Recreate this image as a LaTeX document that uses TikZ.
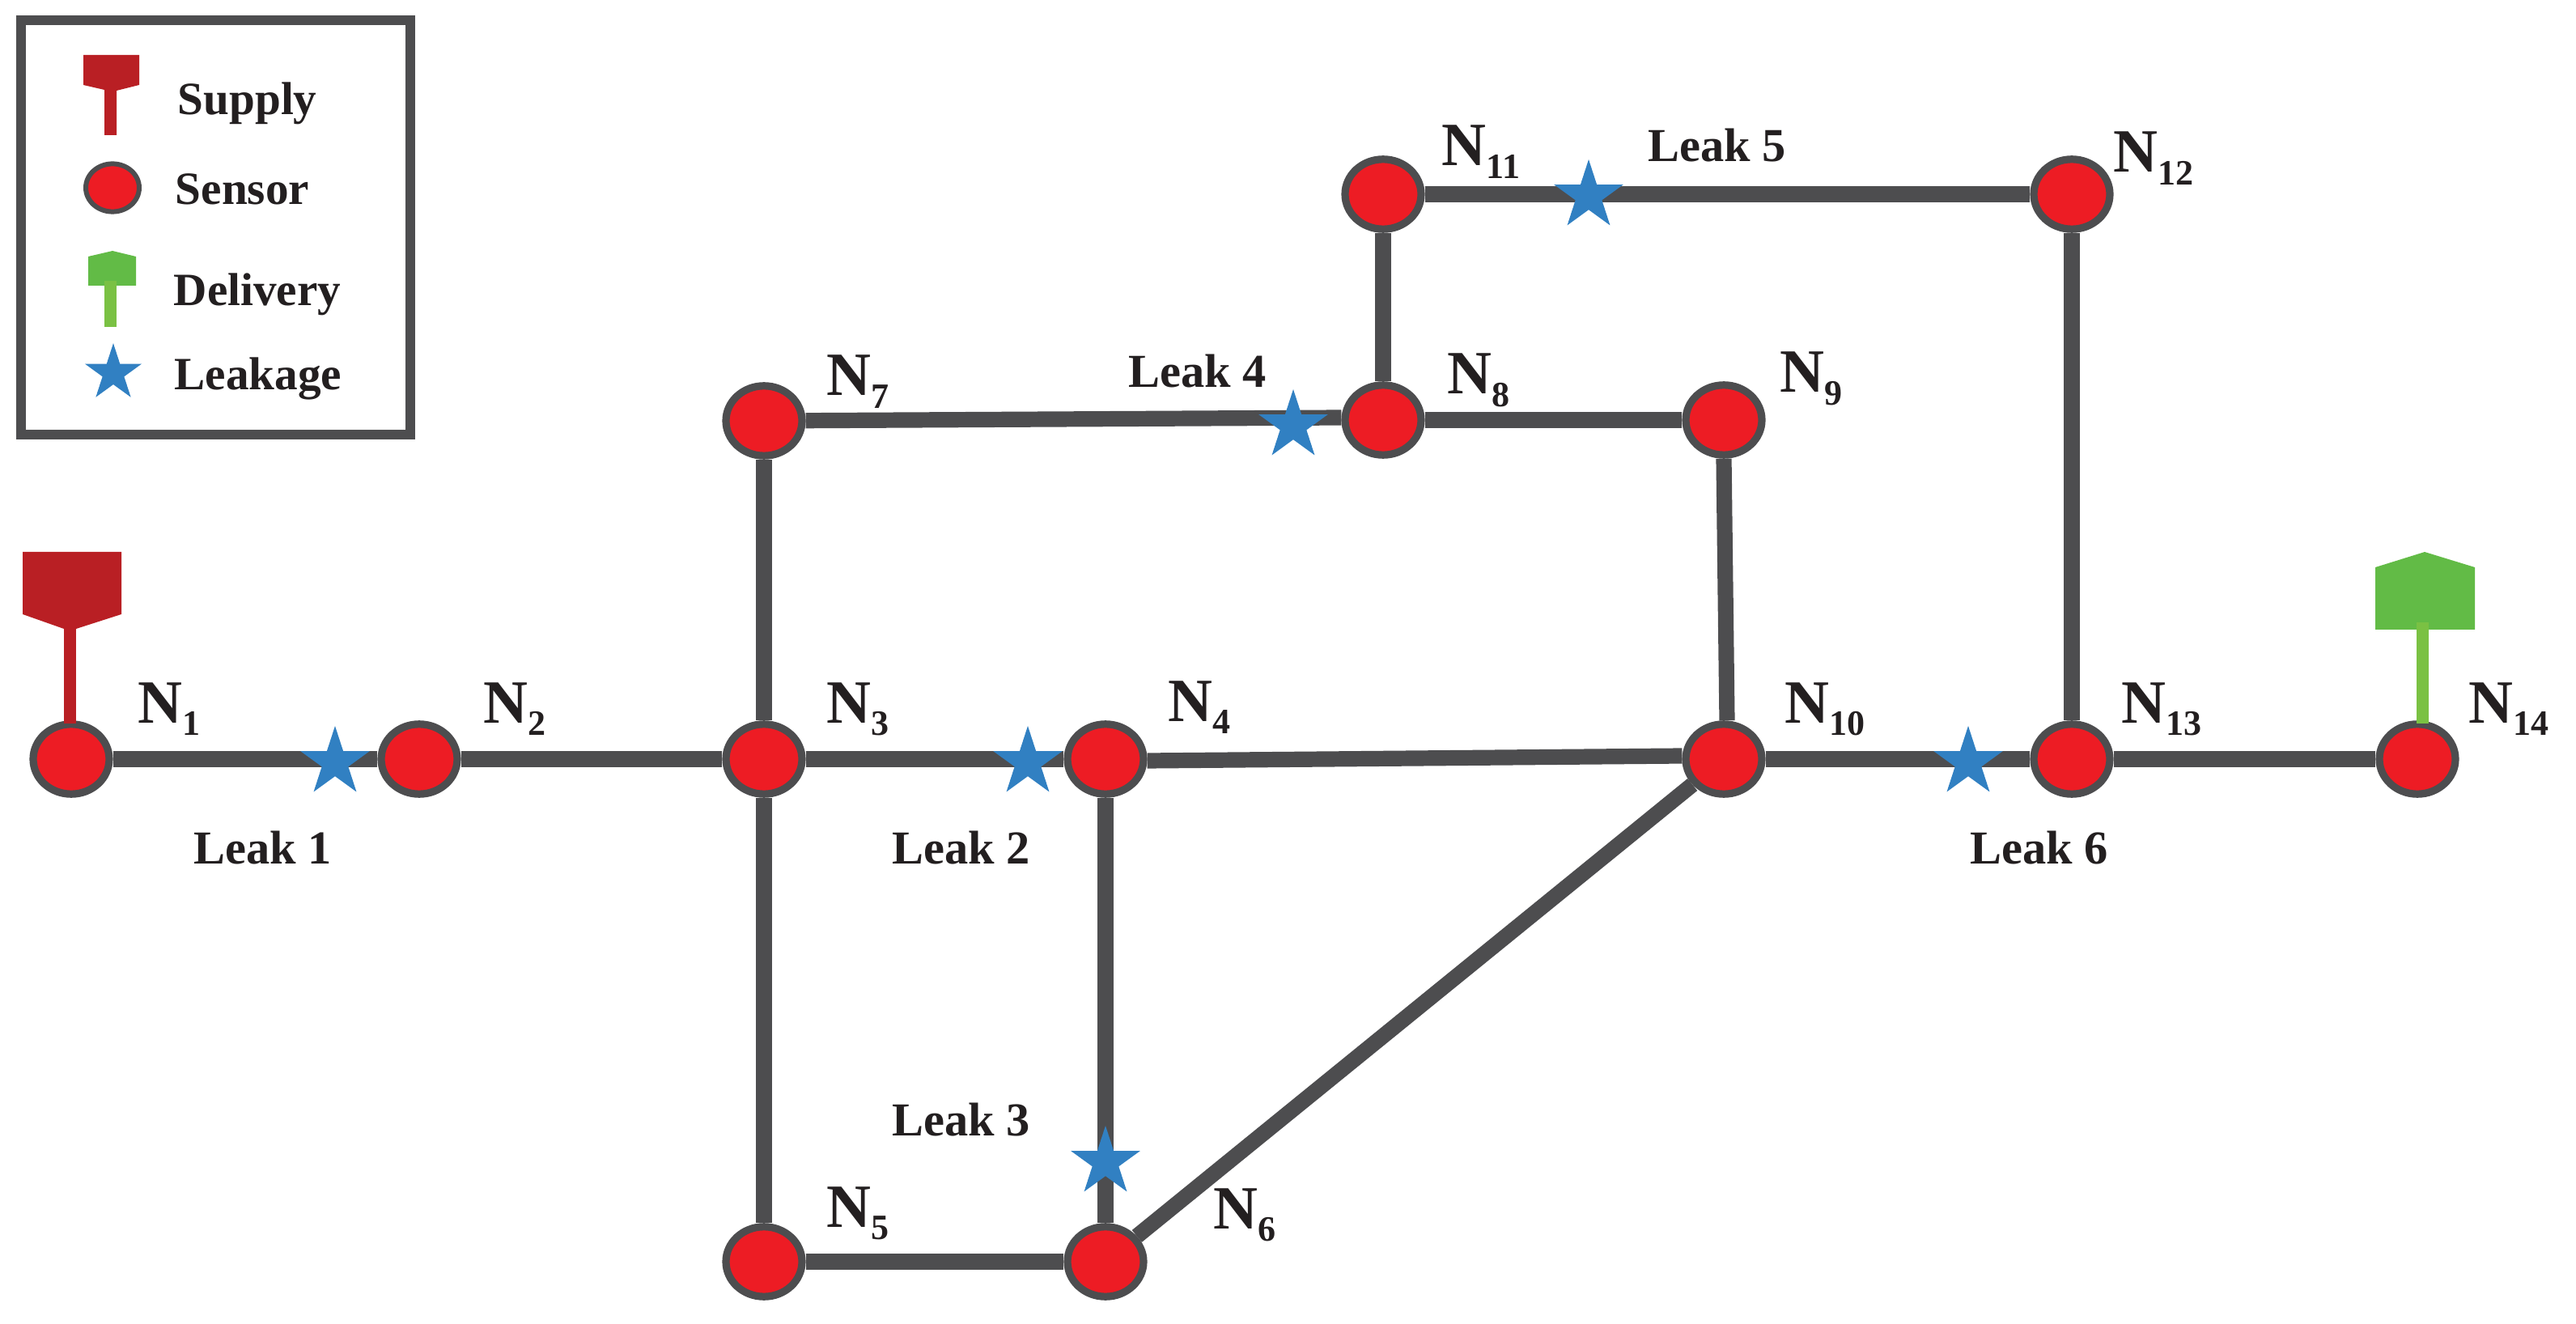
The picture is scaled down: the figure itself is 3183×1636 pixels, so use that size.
\documentclass[tikz,border=0pt]{standalone}
\usepackage{fontspec}
\setmainfont{Liberation Serif}
\usetikzlibrary{shapes.geometric,backgrounds}

\definecolor{pipegrey}{HTML}{4D4D4F}
\definecolor{sensorred}{HTML}{ED1C24}
\definecolor{supplyred}{HTML}{B91F24}
\definecolor{deliverygreen}{HTML}{62BB46}
\definecolor{stemgreen}{HTML}{7AC143}
\definecolor{leakblue}{HTML}{3180C2}
\definecolor{inkblack}{HTML}{231F20}

\tikzset{
  sensor/.style={ellipse,draw=pipegrey,fill=sensorred,line width=2.3pt,inner sep=0pt,minimum width=23.5pt,minimum height=21.6pt},
  smallsensor/.style={sensor,line width=1.5pt,minimum width=16.5pt,minimum height=14.8pt},
  leak/.style={star,star points=5,star point ratio=2.618,fill=leakblue,inner sep=0pt,minimum size=22.5pt},
  smallleak/.style={leak,minimum size=18.4pt},
  pipe/.style={draw=pipegrey,line width=4.8pt},
  nlabel/.style={anchor=base west,inner sep=0pt,text=inkblack,font=\fontsize{19}{19}\selectfont\bfseries},
  leaklabel/.style={anchor=base west,inner sep=0pt,text=inkblack,font=\fontsize{14.6}{14.6}\selectfont\bfseries},
  keylabel/.style={leaklabel,font=\fontsize{14.3}{14.3}\selectfont\bfseries}
}
\newcommand{\nsub}[1]{\raisebox{-0.2em}{\fontsize{11}{11}\selectfont #1}}

\begin{document}
\begin{tikzpicture}[x=0.25pt,y=0.25pt,yscale=-1]
\useasboundingbox (0,0) rectangle (3183,1636);

% legend
\draw [pipegrey,line width=3.1pt] (26,25) rectangle (507,537);
\fill [supplyred] (103,68) -- (172,68) -- (172,105) -- (144,112) -- (144,167) -- (129,167) -- (129,111) -- (103,105) -- cycle;
\node [smallsensor] (keysensor) at (139,232) {};
\fill [deliverygreen] (109,317) -- (139,310) -- (168,317) -- (168,353) -- (109,353) -- cycle;
\fill [stemgreen] (129,347) rectangle (144,404);
\node [smallleak] (keyleak) at (140,461) {};
\node [keylabel] (keysupply) at (219,142) {Supply};
\node [keylabel] (keysens) at (216,253) {Sensor};
\node [keylabel] (keydelivery) at (214,378) {Delivery};
\node [keylabel] (keyleakage) at (215,482) {Leakage};

% sensors
\node [sensor] (N1) at (88,938) {};
\node [sensor] (N2) at (518,938) {};
\node [sensor] (N3) at (944,938) {};
\node [sensor] (N4) at (1366,938) {};
\node [sensor] (N5) at (944,1559) {};
\node [sensor] (N6) at (1366,1559) {};
\node [sensor] (N7) at (944,520) {};
\node [sensor] (N8) at (1709,519) {};
\node [sensor] (N9) at (2130,519) {};
\node [sensor] (N10) at (2130,938) {};
\node [sensor] (N11) at (1709,240) {};
\node [sensor] (N12) at (2560,240) {};
\node [sensor] (N13) at (2560,938) {};
\node [sensor] (N14) at (2987,938) {};

% pipes
\begin{pgfonlayer}{background}
\draw [pipe] (N1) -- (N2);
\draw [pipe] (N2) -- (N3);
\draw [pipe] (N3) -- (N4);
\draw [pipe] ([yshift=0.5pt]N4.east) -- ([yshift=-1pt]N10.west);
\draw [pipe] (N10) -- (N13);
\draw [pipe] (N13) -- (N14);
\draw [pipe] (N3) -- (N7);
\draw [pipe] (N3) -- (N5);
\draw [pipe] (N5) -- (N6);
\draw [pipe] (N4) -- (N6);
\draw [pipe] (N6) -- (N10);
\draw [pipe] (N7) -- ([yshift=-0.75pt]N8.west);
\draw [pipe] (N8) -- (N9);
\draw [pipe] (N9.south) -- ([xshift=1pt]N10.north);
\draw [pipe] (N8) -- (N11);
\draw [pipe] (N11) -- (N12);
\draw [pipe] (N12) -- (N13);
\end{pgfonlayer}

% supply and delivery
\fill [supplyred] (28,682) -- (150,682) -- (150,759) -- (94,777) -- (79,777) -- (28,759) -- cycle;
\coordinate (supplybase) at (86.5,770);
\draw [supplyred,line width=3.6pt] (supplybase) -- ([yshift=1pt]supplybase |- N1.north);
\fill [deliverygreen] (2935,701) -- (2996,682) -- (3058,701) -- (3058,778) -- (2935,778) -- cycle;
\coordinate (deliverybase) at (2993.5,769);
\draw [stemgreen,line width=3.75pt] (deliverybase) -- ([yshift=1pt]deliverybase |- N14.north);

% leaks
\node [leak] (leakA) at (414,942) {};
\node [leak] (leakB) at (1270,942) {};
\node [leak] (leakC) at (1366,1436) {};
\node [leak] (leakD) at (1598,526) {};
\node [leak] (leakE) at (1963,242) {};
\node [leak] (leakF) at (2432,942) {};

% labels
\node [nlabel] (lN1) at (170,893) {N\nsub{1}};
\node [nlabel] (lN2) at (597,893) {N\nsub{2}};
\node [nlabel] (lN3) at (1021,893) {N\nsub{3}};
\node [nlabel] (lN4) at (1443,891) {N\nsub{4}};
\node [nlabel] (lN5) at (1021,1516) {N\nsub{5}};
\node [nlabel] (lN6) at (1499,1518) {N\nsub{6}};
\node [nlabel] (lN7) at (1021,489) {N\nsub{7}};
\node [nlabel] (lN8) at (1788,487) {N\nsub{8}};
\node [nlabel] (lN9) at (2199,485) {N\nsub{9}};
\node [nlabel] (lN10) at (2205,893) {N\nsub{10}};
\node [nlabel] (lN11) at (1781,205) {N\nsub{11}};
\node [nlabel] (lN12) at (2611,213) {N\nsub{12}};
\node [nlabel] (lN13) at (2621,893) {N\nsub{13}};
\node [nlabel] (lN14) at (3050,893) {N\nsub{14}};

\node [leaklabel] (tleakA) at (239,1067) {Leak 1};
\node [leaklabel] (tleakB) at (1102,1067) {Leak 2};
\node [leaklabel] (tleakC) at (1102,1403) {Leak 3};
\node [leaklabel] (tleakD) at (1394,479) {Leak 4};
\node [leaklabel] (tleakE) at (2036,200) {Leak 5};
\node [leaklabel] (tleakF) at (2434,1067) {Leak 6};
\end{tikzpicture}
\end{document}
